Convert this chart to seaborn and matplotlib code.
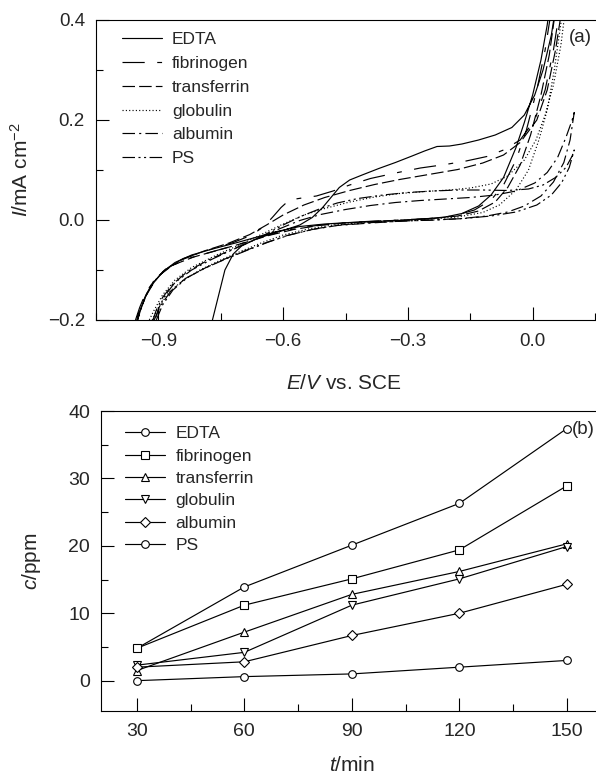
import pandas as pd
import matplotlib
matplotlib.use("Agg")
import matplotlib.pyplot as plt
import seaborn as sns
from matplotlib.ticker import MultipleLocator, FuncFormatter

# ---- panel (a): polarisation loops, forward scan then reverse scan ----
curves = ["EDTA", "fibrinogen", "transferrin", "globulin", "albumin", "PS"]

e_edta = [-0.77, -0.755, -0.74, -0.72, -0.70, -0.66, -0.62, -0.56, -0.50, -0.44, -0.38, -0.32,
          -0.26, -0.21, -0.17, -0.13, -0.10, -0.07, -0.04, -0.02, 0.0, 0.02, 0.035, 0.045,
          0.06, 0.045, 0.025, 0.005, -0.02, -0.05, -0.09, -0.13, -0.17, -0.20, -0.23, -0.26,
          -0.29, -0.33, -0.37, -0.41, -0.44, -0.465, -0.485, -0.505, -0.53, -0.56, -0.60, -0.65,
          -0.71, -0.77, -0.82, -0.86, -0.89, -0.915, -0.932, -0.944, -0.952]
i_edta = [-0.20, -0.15, -0.10, -0.068, -0.052, -0.036, -0.024, -0.013, -0.008, -0.005, -0.003, -0.001,
          0.002, 0.006, 0.013, 0.028, 0.05, 0.085, 0.145, 0.195, 0.25, 0.32, 0.39, 0.45,
          0.45, 0.37, 0.30, 0.25, 0.21, 0.185, 0.17, 0.16, 0.152, 0.148, 0.147, 0.138,
          0.128, 0.115, 0.103, 0.09, 0.08, 0.065, 0.045, 0.025, 0.005, -0.01, -0.021, -0.031,
          -0.045, -0.058, -0.07, -0.085, -0.104, -0.128, -0.155, -0.18, -0.20]

e_fib = [-0.955, -0.945, -0.93, -0.905, -0.87, -0.82, -0.76, -0.70, -0.64, -0.58, -0.52, -0.46,
         -0.40, -0.32, -0.25, -0.19, -0.14, -0.10, -0.07, -0.04, -0.015, 0.01, 0.03, 0.045,
         0.065, 0.05, 0.03, 0.005, -0.03, -0.07, -0.11, -0.16, -0.21, -0.27, -0.33, -0.39,
         -0.44, -0.48, -0.52, -0.555, -0.585, -0.605, -0.625, -0.645, -0.675, -0.72, -0.78, -0.84,
         -0.88, -0.91, -0.93, -0.945, -0.953]
i_fib = [-0.20, -0.175, -0.145, -0.115, -0.092, -0.075, -0.061, -0.047, -0.031, -0.019, -0.011, -0.006,
         -0.003, 0.0, 0.003, 0.008, 0.02, 0.04, 0.07, 0.12, 0.18, 0.26, 0.34, 0.42,
         0.42, 0.34, 0.26, 0.20, 0.16, 0.14, 0.127, 0.118, 0.111, 0.104, 0.094, 0.083,
         0.07, 0.058, 0.048, 0.044, 0.04, 0.025, 0.006, -0.012, -0.03, -0.045, -0.06, -0.077,
         -0.096, -0.12, -0.15, -0.18, -0.20]

e_tra = [-0.95, -0.94, -0.925, -0.90, -0.865, -0.815, -0.755, -0.695, -0.635, -0.575, -0.515, -0.455,
         -0.39, -0.31, -0.24, -0.18, -0.13, -0.09, -0.06, -0.03, -0.005, 0.02, 0.04, 0.055,
         0.07, 0.055, 0.035, 0.01, -0.03, -0.07, -0.12, -0.18, -0.25, -0.32, -0.38, -0.44,
         -0.50, -0.55, -0.60, -0.64, -0.68, -0.73, -0.79, -0.845, -0.885, -0.91, -0.93, -0.943, -0.95]
i_tra = [-0.20, -0.172, -0.142, -0.112, -0.09, -0.074, -0.06, -0.046, -0.031, -0.019, -0.011, -0.006,
         -0.003, 0.0, 0.003, 0.008, 0.018, 0.036, 0.065, 0.11, 0.17, 0.25, 0.33, 0.42,
         0.42, 0.34, 0.26, 0.20, 0.155, 0.13, 0.114, 0.101, 0.091, 0.081, 0.071, 0.059,
         0.045, 0.03, 0.01, -0.01, -0.029, -0.046, -0.062, -0.08, -0.10, -0.124, -0.152, -0.18, -0.20]

e_glo = [-0.915, -0.90, -0.875, -0.84, -0.80, -0.75, -0.70, -0.65, -0.60, -0.54, -0.48, -0.40,
         -0.32, -0.25, -0.18, -0.12, -0.08, -0.04, -0.01, 0.015, 0.035, 0.052, 0.064, 0.074,
         0.08, 0.068, 0.05, 0.03, 0.008, -0.02, -0.06, -0.10, -0.15, -0.20, -0.26, -0.32,
         -0.38, -0.44, -0.50, -0.55, -0.60, -0.65, -0.70, -0.76, -0.82, -0.86, -0.89, -0.91, -0.922]
i_glo = [-0.20, -0.175, -0.145, -0.12, -0.10, -0.08, -0.062, -0.045, -0.03, -0.018, -0.01, -0.005,
         -0.001, 0.002, 0.006, 0.015, 0.03, 0.06, 0.10, 0.16, 0.22, 0.30, 0.37, 0.43,
         0.43, 0.35, 0.27, 0.21, 0.16, 0.12, 0.088, 0.072, 0.064, 0.06, 0.057, 0.053,
         0.046, 0.036, 0.023, 0.01, -0.008, -0.028, -0.048, -0.07, -0.095, -0.12, -0.15, -0.18, -0.20]

e_alb = [-0.91, -0.895, -0.87, -0.835, -0.79, -0.74, -0.69, -0.64, -0.59, -0.53, -0.47, -0.39,
         -0.31, -0.24, -0.17, -0.11, -0.06, -0.02, 0.02, 0.05, 0.075, 0.09, 0.10,
         0.095, 0.08, 0.06, 0.035, 0.005, -0.04, -0.09, -0.15, -0.21, -0.27, -0.33, -0.39,
         -0.45, -0.51, -0.56, -0.61, -0.66, -0.72, -0.78, -0.83, -0.865, -0.89, -0.905, -0.913]
i_alb = [-0.20, -0.172, -0.142, -0.117, -0.097, -0.078, -0.061, -0.045, -0.031, -0.019, -0.011, -0.006,
         -0.002, 0.0, 0.003, 0.008, 0.016, 0.028, 0.048, 0.076, 0.115, 0.16, 0.215,
         0.20, 0.165, 0.125, 0.095, 0.074, 0.058, 0.05, 0.045, 0.042, 0.039, 0.035, 0.029,
         0.021, 0.011, -0.001, -0.018, -0.037, -0.058, -0.08, -0.103, -0.128, -0.155, -0.18, -0.20]

e_ps = [-0.905, -0.89, -0.865, -0.83, -0.785, -0.735, -0.685, -0.635, -0.585, -0.525, -0.465, -0.385,
        -0.305, -0.235, -0.165, -0.10, -0.04, 0.01, 0.045, 0.07, 0.088, 0.10,
        0.095, 0.08, 0.055, 0.025, -0.01, -0.06, -0.12, -0.18, -0.24, -0.30, -0.36, -0.42,
        -0.47, -0.51, -0.555, -0.60, -0.65, -0.71, -0.77, -0.82, -0.86, -0.885, -0.90, -0.908]
i_ps = [-0.20, -0.17, -0.14, -0.115, -0.095, -0.077, -0.06, -0.044, -0.03, -0.018, -0.01, -0.005,
        -0.002, 0.0, 0.003, 0.008, 0.016, 0.03, 0.05, 0.075, 0.105, 0.14,
        0.128, 0.105, 0.085, 0.07, 0.062, 0.059, 0.06, 0.06, 0.058, 0.055, 0.05, 0.043,
        0.034, 0.023, 0.008, -0.01, -0.032, -0.055, -0.078, -0.10, -0.125, -0.152, -0.178, -0.20]

# ---- panel (b): dissolved concentration vs time ----
t_min = [30, 60, 90, 120, 150]
c_edta = [4.8, 13.9, 20.1, 26.3, 37.4]
c_fib = [4.8, 11.2, 15.1, 19.4, 28.9]
c_tra = [1.5, 7.2, 12.8, 16.2, 20.3]
c_glo = [2.3, 4.2, 11.2, 15.1, 19.9]
c_alb = [2.0, 2.8, 6.7, 10.0, 14.3]
c_ps = [0.0, 0.6, 1.0, 2.0, 3.0]

sns.set_style("ticks")
plt.rcParams["font.family"] = ["Liberation Sans", "DejaVu Sans"]
plt.rcParams["mathtext.fontset"] = "custom"
plt.rcParams["mathtext.rm"] = "Liberation Sans"
plt.rcParams["mathtext.it"] = "Liberation Sans:italic"
plt.rcParams["lines.scale_dashes"] = False

cv_parts = []
for name, e, i in zip(curves, [e_edta, e_fib, e_tra, e_glo, e_alb, e_ps],
                      [i_edta, i_fib, i_tra, i_glo, i_alb, i_ps]):
    cv_parts.append(pd.DataFrame({"curve": name, "E": e, "I": i}))
cv = pd.concat(cv_parts, ignore_index=True)

conc = pd.DataFrame({
    "sample": [n for n in curves for _ in t_min],
    "t": t_min * len(curves),
    "c": c_edta + c_fib + c_tra + c_glo + c_alb + c_ps,
})

dash_map = {
    "EDTA": "",
    "fibrinogen": (16, 9, 3.5, 9),
    "transferrin": (9, 3),
    "globulin": (0.8, 1.6),
    "albumin": (9, 3, 1.5, 3),
    "PS": (9, 2.5, 1.5, 2.5, 1.5, 2.5),
}
marker_map = {"EDTA": "o", "fibrinogen": "s", "transferrin": "^",
              "globulin": "v", "albumin": "D", "PS": "o"}


def minus_fmt(fmt):
    return FuncFormatter(lambda v, pos: (fmt % v).replace("-", "\u2212"))


fig = plt.figure(figsize=(5.96, 7.83), dpi=100)
ax1 = fig.add_axes([96 / 596, 1 - 320 / 783, 511.5 / 596, 300 / 783])
ax2 = fig.add_axes([101 / 596, 1 - 711 / 783, 501.7 / 596, 300 / 783])

sns.lineplot(data=cv, x="E", y="I", hue="curve", style="curve", hue_order=curves,
             style_order=curves, palette=["black"] * 6, dashes=dash_map, sort=False,
             estimator=None, linewidth=0.85, legend=False, ax=ax1)
ax1.set_xlim(-1.05, 0.18)
ax1.set_ylim(-0.2, 0.4)
ax1.xaxis.set_major_locator(MultipleLocator(0.3))
ax1.xaxis.set_minor_locator(MultipleLocator(0.15))
ax1.yaxis.set_major_locator(MultipleLocator(0.2))
ax1.yaxis.set_minor_locator(MultipleLocator(0.1))
ax1.xaxis.set_major_formatter(minus_fmt("%.1f"))
ax1.yaxis.set_major_formatter(minus_fmt("%.1f"))
ax1.set_xlabel("$E$/$V$ vs. SCE", fontsize=15)
ax1.set_ylabel("$I$/mA cm$^{-2}$", fontsize=15)
ax1.xaxis.set_label_coords(0.485, -0.18)
ax1.yaxis.set_label_coords(-0.125, 0.5)
ax1.legend(ax1.get_lines()[:6], curves, loc="upper left", bbox_to_anchor=(0.05, 0.96),
           frameon=False, fontsize=12.5, handlelength=2.3, handletextpad=0.6,
           labelspacing=0.5, borderpad=0, borderaxespad=0)
ax1.text(0.925, 0.943, "(a)", transform=ax1.transAxes, fontsize=13.5, ha="left", va="center")

sns.lineplot(data=conc, x="t", y="c", hue="sample", style="sample", hue_order=curves,
             style_order=curves, palette=["black"] * 6, markers=marker_map, dashes=False,
             linewidth=0.85, markersize=5.5, markerfacecolor="white", markeredgecolor="black",
             markeredgewidth=0.8, legend=False, ax=ax2)
ax2.set_xlim(20, 160)
ax2.set_ylim(-4.5, 40)
ax2.xaxis.set_major_locator(MultipleLocator(30))
ax2.xaxis.set_minor_locator(MultipleLocator(15))
ax2.yaxis.set_major_locator(MultipleLocator(10))
ax2.yaxis.set_minor_locator(MultipleLocator(5))
ax2.set_xlabel("$t$/min", fontsize=15)
ax2.set_ylabel("$c$/ppm", fontsize=15)
ax2.xaxis.set_label_coords(0.5, -0.15)
ax2.yaxis.set_label_coords(-0.115, 0.5)
ax2.legend(ax2.get_lines()[:6], curves, loc="upper left", bbox_to_anchor=(0.048, 0.95),
           frameon=False, fontsize=12.5, handlelength=2.3, handletextpad=0.6,
           labelspacing=0.42, borderpad=0, borderaxespad=0, numpoints=1)
ax2.text(0.939, 0.94, "(b)", transform=ax2.transAxes, fontsize=13.5, ha="left", va="center")

for ax, fs in [(ax1, 13.5), (ax2, 14)]:
    ax.tick_params(which="both", direction="in", top=False, right=False, width=0.8,
                   labelsize=fs, color="black")
    ax.tick_params(which="major", length=9.5)
    ax.tick_params(which="minor", length=5)
    ax.tick_params(axis="x", which="major", pad=9)
    ax.tick_params(axis="y", which="major", pad=8)
    for sp in ax.spines.values():
        sp.set_linewidth(0.8)
        sp.set_color("black")
    ax.spines["right"].set_visible(False)

fig.savefig("out.png", dpi=100)
